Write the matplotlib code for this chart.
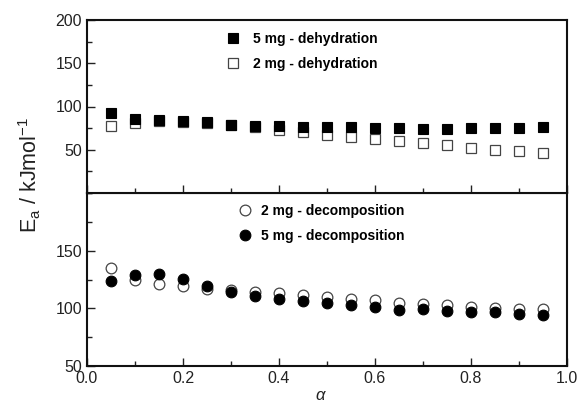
import matplotlib.pyplot as plt
import numpy as np
from matplotlib.ticker import MultipleLocator

plt.rcParams.update({
    "font.family": ["Liberation Sans", "DejaVu Sans"],
    "mathtext.fontset": "custom",
    "mathtext.rm": "Liberation Sans",
    "mathtext.it": "Liberation Sans:italic",
})

alpha = np.array([0.05, 0.10, 0.15, 0.20, 0.25, 0.30, 0.35, 0.40, 0.45, 0.50,
                  0.55, 0.60, 0.65, 0.70, 0.75, 0.80, 0.85, 0.90, 0.95])

dehyd_5mg = [92, 86, 84, 83, 82, 79, 78, 77, 76.5, 76.5,
             76.5, 75.5, 75, 74, 74.5, 75.5, 75.5, 75.5, 76.5]
dehyd_2mg = [77, 81, 83, 82, 81, 79, 76, 73, 70, 67,
             65, 63, 60.5, 57.5, 55, 52.5, 49.5, 48, 46]

decomp_2mg = [135, 125, 121, 119, 117, 116, 114.5, 113, 111.5, 109.5,
              108, 107, 105, 104, 102.5, 101, 100.5, 99.5, 99]
decomp_5mg = [124, 129, 129.5, 125.5, 119.5, 114.5, 111, 108, 106, 104.5,
              102.5, 101.5, 98.5, 99, 98, 97, 96.5, 95.5, 94.5]

fig = plt.figure(figsize=(5.8, 4.03), dpi=100)
x0, w = 87 / 580, 480 / 580
h = 173 / 403
ax_bot = fig.add_axes([x0, 1 - 366 / 403, w, h])
ax_top = fig.add_axes([x0, 1 - 193 / 403, w, h], sharex=ax_bot)

ms = 7.2
ax_top.plot(alpha, dehyd_5mg, "s", ms=ms, mfc="black", mec="black", mew=0.8,
            label="5 mg - dehydration", zorder=3)
ax_top.plot(alpha, dehyd_2mg, "s", ms=ms, mfc="white", mec="#444444", mew=0.9,
            label="2 mg - dehydration", zorder=2)

ax_bot.plot(alpha, decomp_2mg, "o", ms=ms + 0.5, mfc="white", mec="#444444", mew=0.9,
            label="2 mg - decomposition", zorder=2)
ax_bot.plot(alpha, decomp_5mg, "o", ms=ms + 0.5, mfc="black", mec="black", mew=0.8,
            label="5 mg - decomposition", zorder=3)

ax_top.set_ylim(0, 200)
ax_top.set_yticks([50, 100, 150, 200])
ax_top.yaxis.set_minor_locator(MultipleLocator(25))
ax_bot.set_ylim(50, 200)
ax_bot.set_yticks([50, 100, 150])
ax_bot.yaxis.set_minor_locator(MultipleLocator(25))

ax_bot.set_xlim(0, 1)
ax_bot.xaxis.set_major_locator(MultipleLocator(0.2))
ax_bot.xaxis.set_minor_locator(MultipleLocator(0.1))
ax_bot.set_xticks([0, 0.2, 0.4, 0.6, 0.8, 1.0], ["0.0", "0.2", "0.4", "0.6", "0.8", "1.0"])
ax_top.tick_params(axis="x", which="both", labelbottom=False)

for ax in (ax_top, ax_bot):
    ax.tick_params(which="both", direction="in", top=False, right=False,
                   labelsize=11.5, colors="#222222", labelcolor="#222222")
    ax.tick_params(which="major", length=6, width=1.0)
    ax.tick_params(which="minor", length=3.5, width=1.0)
    for s in ax.spines.values():
        s.set_linewidth(1.5)
        s.set_color("#111111")

legend_kw = dict(loc="upper left", frameon=False, borderpad=0, borderaxespad=0,
                 handlelength=1.0, labelspacing=0.8,
                 prop={"weight": "bold", "size": 10})
ax_top.legend(bbox_to_anchor=(0.29, 0.93), handletextpad=0.9, **legend_kw)
ax_bot.legend(bbox_to_anchor=(0.315, 0.935), handletextpad=0.65, **legend_kw)

fig.text(30 / 580, 1 - 175 / 403, r"E$_\mathrm{a}$ / kJmol$^{-1}$", rotation=90,
         ha="center", va="center", fontsize=15.5, color="#222222")
fig.text(321 / 580, 1 - 396 / 403, r"$\alpha$", ha="center", va="center",
         fontsize=12, family="DejaVu Serif", color="#222222")

fig.savefig("out.png", dpi=100)
